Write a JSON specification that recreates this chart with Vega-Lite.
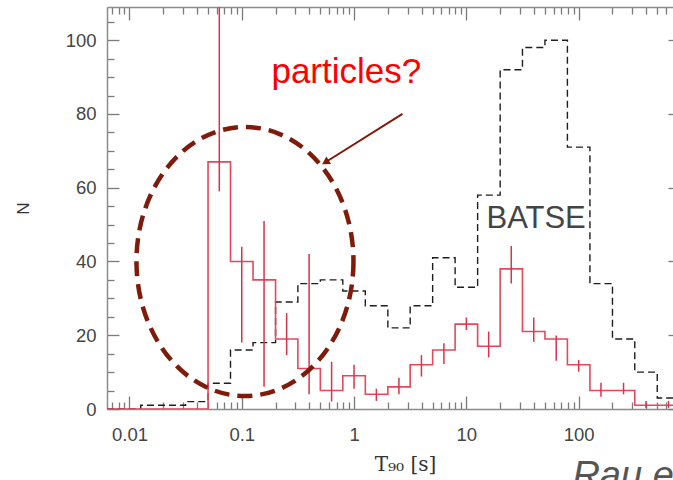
{
  "$schema": "https://vega.github.io/schema/vega-lite/v6.json",
  "width": 566,
  "height": 402,
  "autosize": {"type": "none"},
  "padding": {"left": 107, "top": 7, "right": 0, "bottom": 71},
  "background": "white",
  "config": {
    "view": {"stroke": null},
    "axis": {
      "grid": false,
      "domainColor": "#8c8c8c",
      "domainWidth": 1.5,
      "tickColor": "#7a7a7a",
      "tickWidth": 1.3,
      "labelFont": "Liberation Sans",
      "labelFontSize": 18.5,
      "labelColor": "#454545",
      "labelOverlap": false,
      "labelFlush": false,
      "titleFont": "DejaVu Serif",
      "titleFontWeight": "normal",
      "titleColor": "#333333"
    }
  },
  "datasets": {
    "batse": [
      {"t90": 0.005, "n": 0},
      {"t90": 0.0126, "n": 1},
      {"t90": 0.0316, "n": 2},
      {"t90": 0.0501, "n": 7},
      {"t90": 0.0794, "n": 16},
      {"t90": 0.126, "n": 18},
      {"t90": 0.2, "n": 29},
      {"t90": 0.316, "n": 34},
      {"t90": 0.501, "n": 35},
      {"t90": 0.794, "n": 32},
      {"t90": 1.26, "n": 28},
      {"t90": 2.0, "n": 22},
      {"t90": 3.16, "n": 28},
      {"t90": 5.01, "n": 41},
      {"t90": 7.94, "n": 33},
      {"t90": 12.6, "n": 58},
      {"t90": 20.0, "n": 92},
      {"t90": 31.6, "n": 98},
      {"t90": 50.1, "n": 100},
      {"t90": 79.4, "n": 71},
      {"t90": 126, "n": 34},
      {"t90": 200, "n": 19},
      {"t90": 316, "n": 10},
      {"t90": 501, "n": 3},
      {"t90": 794, "n": 3}
    ],
    "sample": [
      {"t90": 0.005, "n": 0},
      {"t90": 0.0501, "n": 67},
      {"t90": 0.0794, "n": 40},
      {"t90": 0.126, "n": 35},
      {"t90": 0.2, "n": 19},
      {"t90": 0.316, "n": 11},
      {"t90": 0.501, "n": 5},
      {"t90": 0.794, "n": 9},
      {"t90": 1.26, "n": 4},
      {"t90": 2.0, "n": 6},
      {"t90": 3.16, "n": 12},
      {"t90": 5.01, "n": 16},
      {"t90": 7.94, "n": 23},
      {"t90": 12.6, "n": 17},
      {"t90": 20.0, "n": 38},
      {"t90": 31.6, "n": 21},
      {"t90": 50.1, "n": 19},
      {"t90": 79.4, "n": 12},
      {"t90": 126, "n": 5},
      {"t90": 200, "n": 5},
      {"t90": 316, "n": 1},
      {"t90": 501, "n": 1},
      {"t90": 794, "n": 1}
    ],
    "errors": [
      {"t90": 0.0631, "lo": 59, "hi": 120},
      {"t90": 0.1, "lo": 18, "hi": 44},
      {"t90": 0.158, "lo": 6, "hi": 51},
      {"t90": 0.251, "lo": 14.6, "hi": 26},
      {"t90": 0.398, "lo": 4, "hi": 42},
      {"t90": 0.631, "lo": 2, "hi": 12.8},
      {"t90": 1.0, "lo": 5.5, "hi": 12},
      {"t90": 1.58, "lo": 2.2, "hi": 5.5},
      {"t90": 2.51, "lo": 4, "hi": 8.5},
      {"t90": 3.98, "lo": 8.8, "hi": 14.6},
      {"t90": 6.31, "lo": 12.2, "hi": 17.8},
      {"t90": 10.0, "lo": 21.4, "hi": 24.8},
      {"t90": 15.8, "lo": 14, "hi": 21},
      {"t90": 25.1, "lo": 34, "hi": 44.2},
      {"t90": 39.8, "lo": 18.2, "hi": 24.8},
      {"t90": 63.1, "lo": 13.1, "hi": 19.9},
      {"t90": 100, "lo": 10.1, "hi": 13.3},
      {"t90": 158, "lo": 3.3, "hi": 7.1},
      {"t90": 251, "lo": 4, "hi": 7.1},
      {"t90": 398, "lo": 0.3, "hi": 2.2},
      {"t90": 631, "lo": 0.3, "hi": 2.2}
    ]
  },
  "layer": [
    {
      "data": {"name": "batse"},
      "mark": {"type": "line", "interpolate": "step-after", "color": "#1e1e1e", "strokeWidth": 1.4, "strokeDash": [7, 4], "clip": true},
      "encoding": {
        "x": {
          "field": "t90",
          "type": "quantitative",
          "scale": {"type": "log", "domain": [0.00631, 692], "nice": false},
          "axis": {
            "orient": "bottom",
            "values": [0.007, 0.008, 0.009, 0.01, 0.02, 0.03, 0.04, 0.05, 0.06, 0.07, 0.08, 0.09, 0.1, 0.2, 0.3, 0.4, 0.5, 0.6, 0.7, 0.8, 0.9, 1, 2, 3, 4, 5, 6, 7, 8, 9, 10, 20, 30, 40, 50, 60, 70, 80, 90, 100, 200, 300, 400, 500, 600],
            "format": "~g",
            "labelExpr": "indexof([0.01, 0.1, 1, 10, 100], datum.value) >= 0 ? datum.label : ''",
            "tickSize": {"condition": {"test": "indexof([0.01, 0.1, 1, 10, 100], datum.value) >= 0", "value": -13}, "value": -7},
            "labelPadding": 29,
            "title": "T₉₀  [s]",
            "titleFontSize": 20,
            "titleX": 298,
            "titleY": 45,
            "titleAlign": "center",
            "titleBaseline": "top"
          }
        },
        "y": {
          "field": "n",
          "type": "quantitative",
          "scale": {"domain": [0, 109], "nice": false},
          "axis": {
            "orient": "left",
            "values": [0, 5, 10, 15, 20, 25, 30, 35, 40, 45, 50, 55, 60, 65, 70, 75, 80, 85, 90, 95, 100, 105],
            "labelExpr": "datum.value % 20 == 0 ? datum.label : ''",
            "tickSize": {"condition": {"test": "datum.value % 20 == 0", "value": -12}, "value": -7},
            "labelPadding": 23,
            "title": "N",
            "titleFont": "Liberation Sans",
            "titleFontSize": 17,
            "titleAngle": -90,
            "titleX": -79,
            "titleY": 201,
            "titleAlign": "center",
            "titleBaseline": "alphabetic"
          }
        }
      }
    },
    {
      "data": {"name": "sample"},
      "mark": {"type": "line", "interpolate": "step-after", "color": "#e24a5c", "strokeWidth": 1.6, "clip": true},
      "encoding": {
        "x": {
          "field": "t90",
          "type": "quantitative",
          "axis": {
            "orient": "top",
            "values": [0.007, 0.008, 0.009, 0.01, 0.02, 0.03, 0.04, 0.05, 0.06, 0.07, 0.08, 0.09, 0.1, 0.2, 0.3, 0.4, 0.5, 0.6, 0.7, 0.8, 0.9, 1, 2, 3, 4, 5, 6, 7, 8, 9, 10, 20, 30, 40, 50, 60, 70, 80, 90, 100, 200, 300, 400, 500, 600],
            "labels": false,
            "title": null,
            "tickSize": {"condition": {"test": "indexof([0.01, 0.1, 1, 10, 100], datum.value) >= 0", "value": -13}, "value": -7}
          }
        },
        "y": {
          "field": "n",
          "type": "quantitative",
          "axis": {
            "orient": "right",
            "offset": 7,
            "domain": false,
            "labels": false,
            "title": null,
            "values": [0, 5, 10, 15, 20, 25, 30, 35, 40, 45, 50, 55, 60, 65, 70, 75, 80, 85, 90, 95, 100, 105],
            "tickSize": {"condition": {"test": "datum.value % 20 == 0", "value": -12}, "value": -7}
          }
        }
      }
    },
    {
      "data": {"name": "errors"},
      "mark": {"type": "rule", "color": "#d8334a", "strokeWidth": 1.5, "clip": true},
      "encoding": {
        "x": {"field": "t90", "type": "quantitative", "axis": null},
        "y": {"field": "lo", "type": "quantitative", "axis": null},
        "y2": {"field": "hi"}
      }
    },
    {
      "data": {"values": [{"t90": 0.1068, "n": 40}]},
      "mark": {
        "type": "point",
        "shape": "M0.8067,0C0.8067,0.5523,0.4455,1,0,1C-0.4455,1,-0.8067,0.5523,-0.8067,0C-0.8067,-0.5523,-0.4455,-1,0,-1C0.4455,-1,0.8067,-0.5523,0.8067,0Z",
        "size": 72361,
        "filled": false,
        "stroke": "#7e1b0b",
        "strokeWidth": 4.5,
        "strokeDash": [15, 8],
        "opacity": 1
      },
      "encoding": {
        "x": {"field": "t90", "type": "quantitative", "axis": null},
        "y": {"field": "n", "type": "quantitative", "axis": null}
      }
    },
    {
      "data": {"values": [{"t90": 2.70, "n": 80, "t90_end": 0.556, "n_end": 66.9}]},
      "mark": {"type": "rule", "color": "#7e1b0b", "strokeWidth": 2},
      "encoding": {
        "x": {"field": "t90", "type": "quantitative", "axis": null},
        "y": {"field": "n", "type": "quantitative", "axis": null},
        "x2": {"field": "t90_end"},
        "y2": {"field": "n_end"}
      }
    },
    {
      "data": {"values": [{"t90": 0.556, "n": 66.9}]},
      "mark": {"type": "point", "shape": "triangle-right", "angle": 148, "size": 80, "filled": true, "color": "#7e1b0b", "opacity": 1},
      "encoding": {
        "x": {"field": "t90", "type": "quantitative", "axis": null},
        "y": {"field": "n", "type": "quantitative", "axis": null}
      }
    },
    {
      "data": {"values": [{"t90": 0.1838, "n": 88.3, "label": "particles?"}]},
      "mark": {"type": "text", "align": "left", "baseline": "alphabetic", "font": "Liberation Sans", "fontSize": 35, "color": "#ff0000"},
      "encoding": {
        "x": {"field": "t90", "type": "quantitative", "axis": null},
        "y": {"field": "n", "type": "quantitative", "axis": null},
        "text": {"field": "label"}
      }
    },
    {
      "data": {"values": [{"t90": 15.1, "n": 49.0, "label": "BATSE"}]},
      "mark": {"type": "text", "align": "left", "baseline": "alphabetic", "font": "Liberation Sans", "fontSize": 31, "color": "#444444"},
      "encoding": {
        "x": {"field": "t90", "type": "quantitative", "axis": null},
        "y": {"field": "n", "type": "quantitative", "axis": null},
        "text": {"field": "label"}
      }
    },
    {
      "data": {"values": [{"t90": 88, "n": -21.3, "label": "Rau et al."}]},
      "mark": {"type": "text", "align": "left", "baseline": "alphabetic", "font": "Liberation Sans", "fontSize": 38, "fontStyle": "italic", "color": "#555555"},
      "encoding": {
        "x": {"field": "t90", "type": "quantitative", "axis": null},
        "y": {"field": "n", "type": "quantitative", "axis": null},
        "text": {"field": "label"}
      }
    }
  ],
  "resolve": {"axis": {"x": "independent", "y": "independent"}}
}
